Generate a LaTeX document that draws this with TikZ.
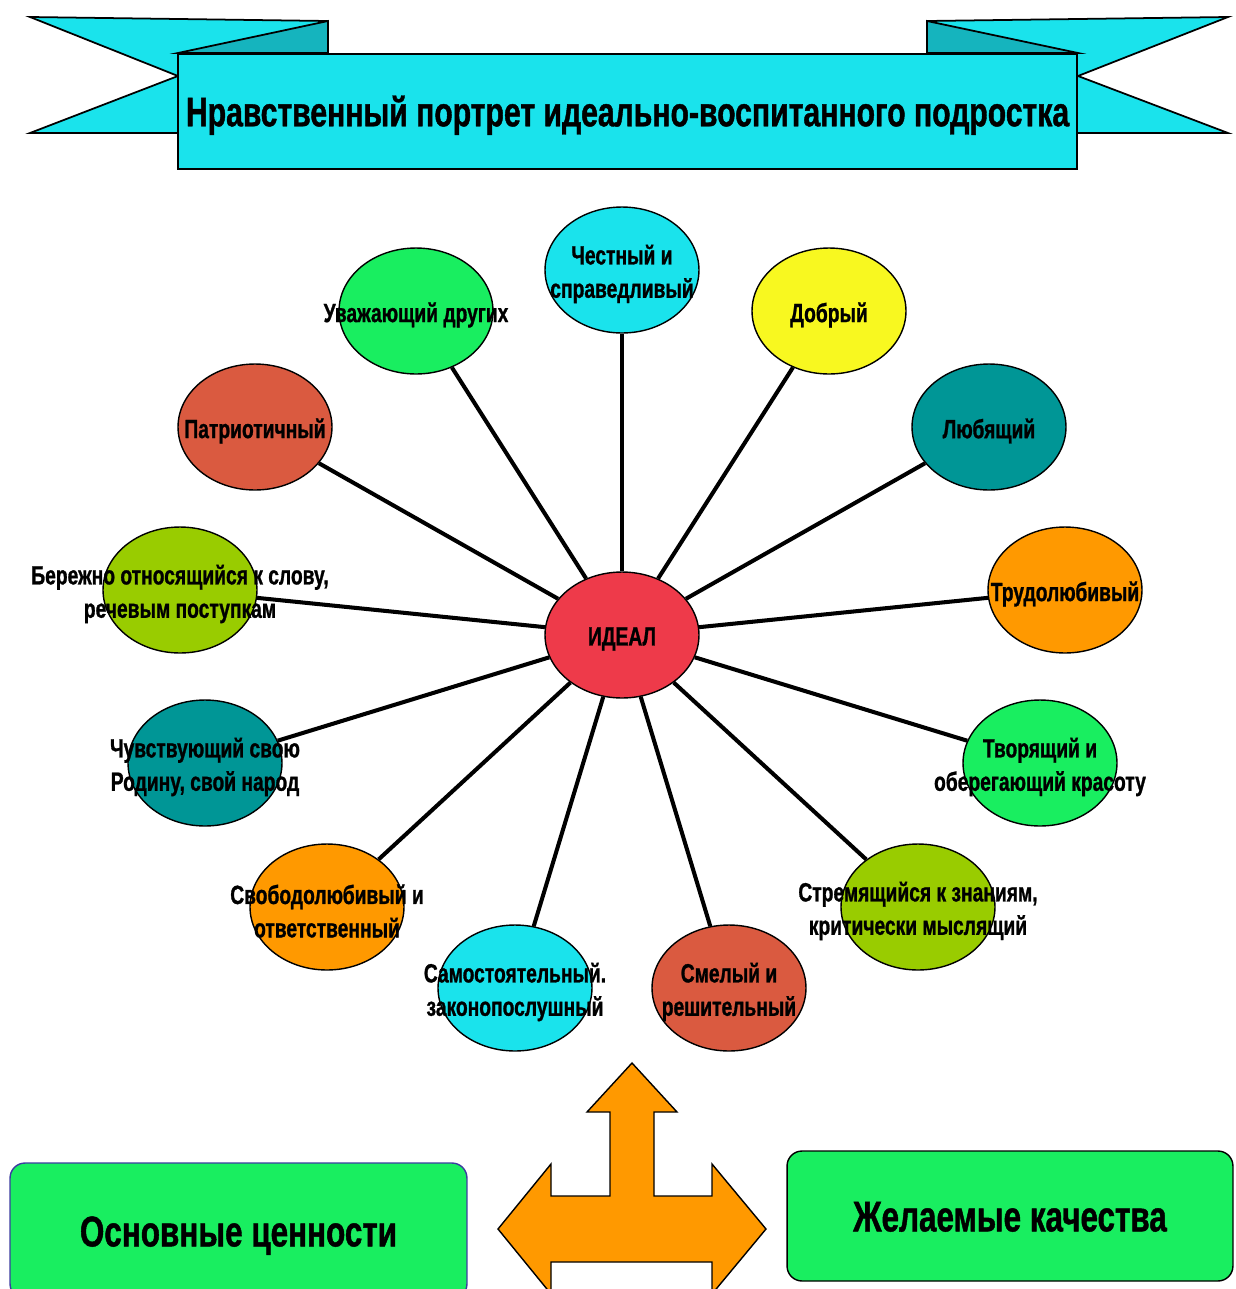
\documentclass[tikz,border=0pt]{standalone}
\usepackage{fontspec}
\setmainfont{Liberation Sans}[FakeStretch=0.73, BoldFeatures={FakeBold=1}]
\usetikzlibrary{shapes.geometric}

\definecolor{aqua}{HTML}{1AE3EC}
\definecolor{aquadark}{HTML}{15B4BE}
\definecolor{idealred}{HTML}{EE3A4A}
\definecolor{lightgreen}{HTML}{19EE60}
\definecolor{lemon}{HTML}{F8F820}
\definecolor{teal}{HTML}{009696}
\definecolor{amber}{HTML}{FF9900}
\definecolor{olive}{HTML}{99CC00}
\definecolor{brick}{HTML}{DA5A40}
\definecolor{boxblue}{HTML}{3C3CA0}

\begin{document}
\begin{tikzpicture}[x=0.02cm, y=-0.02cm,
    quality/.style={ellipse, draw=black, line width=0.8pt, minimum width=3.08cm,
                    minimum height=2.52cm, inner sep=0pt},
    caption/.style={font=\bfseries\fontsize{15}{19}\selectfont, align=center, inner sep=0pt,
                    yshift=-0.08cm},
    spoke/.style={line width=2.3pt},
    tail/.style={draw=black, line width=1pt, fill=aqua, line join=miter},
    fold/.style={draw=black, line width=1pt, fill=aquadark},
    bigbox/.style={rounded corners=0.3cm, fill=lightgreen, line width=0.8pt, inner sep=0pt,
                   text height=17.5pt, text depth=0pt,
                   font=\bfseries\fontsize{24.5}{28}\selectfont}]
    \clip (0,0) rectangle (1236,1289);

    % ribbon
    \draw[tail] (30,17) -- (328,21) -- (328,133) -- (30,133) -- (178,76) -- cycle;
    \draw[fold] (178,53) -- (328,21) -- (328,53) -- cycle;
    \draw[tail] (1228,17) -- (927,21) -- (927,133) -- (1228,133) -- (1078,76) -- cycle;
    \draw[fold] (1078,53) -- (927,21) -- (927,53) -- cycle;
    \node[draw=black, line width=1pt, fill=aqua, minimum width=17.98cm, minimum height=2.3cm,
          inner sep=0pt, text height=16.8pt, text depth=0pt,
          font=\bfseries\fontsize{23.5}{27}\selectfont] (title) at (627.5,111.5)
          {Нравственный портрет идеально-воспитанного подростка};

    % ellipses
    \node[quality, fill=idealred, label={[caption]center:ИДЕАЛ}] (ideal) at (622,635) {};
    \node[quality, fill=aqua, label={[caption]center:Честный и\\справедливый}] (honest) at (622,270) {};
    \node[quality, fill=lemon, label={[caption]center:Добрый}] (kind) at (829,311) {};
    \node[quality, fill=teal, label={[caption]center:Любящий}] (loving) at (989,427) {};
    \node[quality, fill=amber, label={[caption]center:Трудолюбивый}] (diligent) at (1065,590) {};
    \node[quality, fill=lightgreen, label={[caption]center:Творящий и\\оберегающий красоту}] (creative) at (1040,763) {};
    \node[quality, fill=olive, label={[caption]center:Стремящийся к знаниям,\\критически мыслящий}] (curious) at (918,907) {};
    \node[quality, fill=brick, label={[caption]center:Смелый и\\решительный}] (brave) at (729,988) {};
    \node[quality, fill=aqua, label={[caption]center:Самостоятельный.\\законопослушный}] (independent) at (515,988) {};
    \node[quality, fill=amber, label={[caption]center:Свободолюбивый и\\ответственный}] (free) at (327,907) {};
    \node[quality, fill=teal, label={[caption]center:Чувствующий свою\\Родину, свой народ}] (homeland) at (205,763) {};
    \node[quality, fill=olive, label={[caption]center:Бережно относящийся к слову,\\речевым поступкам}] (careful) at (180,590) {};
    \node[quality, fill=brick, label={[caption]center:Патриотичный}] (patriot) at (255,427) {};
    \node[quality, fill=lightgreen, label={[caption]center:Уважающий других}] (respect) at (416,311) {};

    \foreach \q in {honest,kind,loving,diligent,creative,curious,brave,
                    independent,free,homeland,careful,patriot,respect}{
        \draw[spoke] (ideal) -- (\q);
    }

    % arrows
    \draw[draw=black, line width=0.8pt, fill=amber] (498,1229) -- (551,1164) -- (551,1196)
        -- (610,1196) -- (610,1112) -- (587,1112) -- (632,1063) -- (677,1112) -- (654,1112)
        -- (654,1196) -- (712,1196) -- (712,1164) -- (766,1229) -- (712,1294) -- (712,1262)
        -- (551,1262) -- (551,1294) -- cycle;

    % boxes
    \node[bigbox, draw=boxblue, minimum width=9.14cm, minimum height=2.72cm] (values) at (238.5,1231) {Основные ценности};
    \node[bigbox, draw=black, minimum width=8.92cm, minimum height=2.6cm] (wanted) at (1010,1216) {Желаемые качества};
\end{tikzpicture}
\end{document}
